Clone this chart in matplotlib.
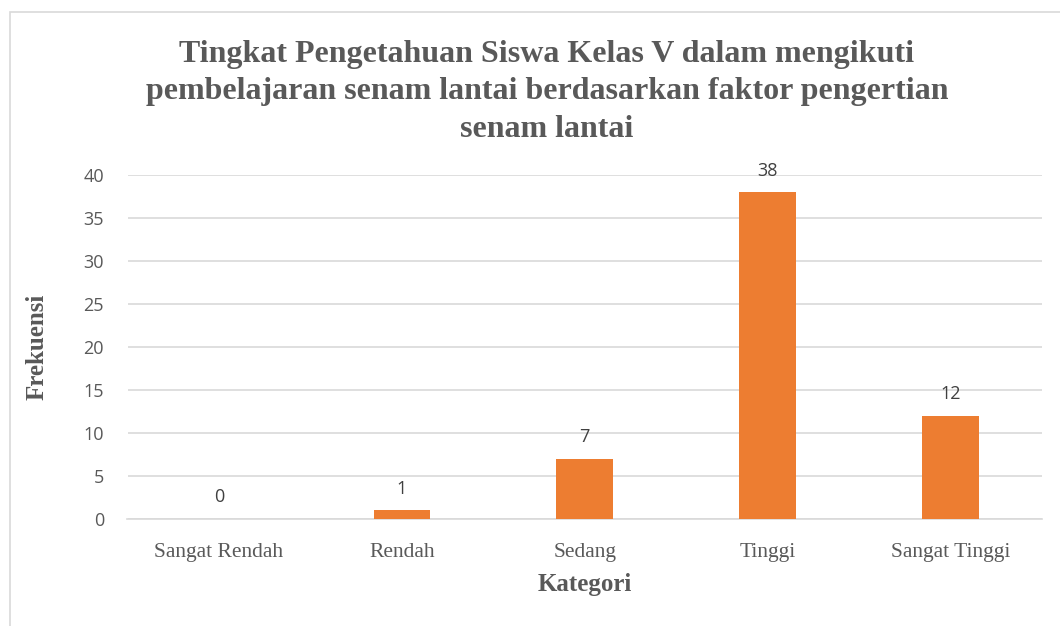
import matplotlib
matplotlib.use("Agg")
import matplotlib.pyplot as plt
from matplotlib.patches import Rectangle

categories = ["Sangat Rendah", "Rendah", "Sedang", "Tinggi", "Sangat Tinggi"]
values = [0, 1, 7, 38, 12]
yticks = [0, 5, 10, 15, 20, 25, 30, 35, 40]

title = ("Tingkat Pengetahuan Siswa Kelas V dalam mengikuti\n"
         "pembelajaran senam lantai berdasarkan faktor pengertian\n"
         "senam lantai")

W, H = 1060, 626
fig = plt.figure(figsize=(W / 100, H / 100), dpi=100)
fig.patch.set_facecolor("white")
fig.patches.append(Rectangle((9.5 / W, -0.1), 1.2, (H - 12) / H + 0.1,
                             transform=fig.transFigure, fill=False,
                             edgecolor="#d9d9d9", linewidth=1.2))

ax = fig.add_axes([127.5 / W, 1 - 519 / H, (1042 - 127.5) / W, (519 - 175) / H])
x = list(range(len(categories)))
ax.bar(x, values, width=0.31, color="#ED7D31", zorder=3)
ax.set_xlim(-0.5, len(categories) - 0.5)
ax.set_ylim(0, 40)
ax.set_yticks(yticks)
ax.set_yticklabels([str(v) for v in yticks], fontfamily="Open Sans",
                   fontsize=13, color="#595959")
ax.set_xticks(x)
ax.set_xticklabels(categories, fontfamily="Liberation Serif", fontsize=15.5,
                   color="#595959")
ax.tick_params(axis="both", length=0)
ax.tick_params(axis="x", pad=17)
ax.tick_params(axis="y", pad=17)
ax.grid(axis="y", color="#d9d9d9", linewidth=1.2, zorder=0)
for s in ["top", "right", "left"]:
    ax.spines[s].set_visible(False)
ax.spines["bottom"].set_color("#d9d9d9")
ax.spines["bottom"].set_linewidth(1.2)

for xi, v in zip(x, values):
    ax.annotate(str(v), (xi, v), xytext=(0, 9), textcoords="offset points",
                ha="center", va="bottom", fontfamily="Open Sans",
                fontsize=13, color="#404040")

ax.set_xlabel("Kategori", fontfamily="Liberation Serif", fontweight="bold",
              fontsize=18, color="#595959", labelpad=8)
ax.set_ylabel("Frekuensi", fontfamily="Liberation Serif", fontweight="bold",
              fontsize=18, color="#595959", labelpad=25)

fig.text(547 / W, 1 - 92 / H, title, ha="center", va="center",
         fontfamily="Liberation Serif", fontweight="bold", fontsize=23,
         color="#595959", linespacing=1.4)

fig.savefig("out.png", dpi=100)
